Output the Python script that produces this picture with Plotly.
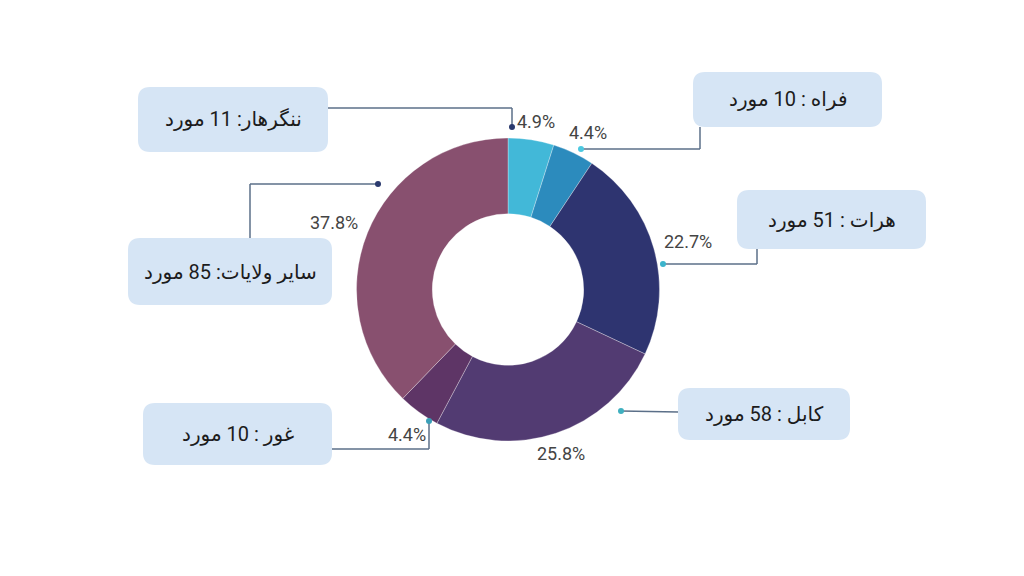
import plotly.graph_objects as go

# استان‌ها و تعداد موارد
provinces = ["ننگرهار", "فراه", "هرات", "کابل", "غور", "سایر ولایات"]
counts = [11, 10, 51, 58, 10, 85]
box_texts = ["ننگرهار: 11 مورد", "فراه : 10 مورد", "هرات : 51 مورد",
             "کابل : 58 مورد", "غور : 10 مورد", "سایر ولایات: 85 مورد"]
colors = ["#42b8d8", "#2c8bbd", "#2e3470", "#523b72", "#5e3566", "#88506f"]

# the page body has an 8px margin, so the figure sits at (8, 8)
OFF = 8
W, H = 1024 - 2 * OFF, 576 - 2 * OFF


def px(x, y):
    return (x - OFF) / W, 1 - (y - OFF) / H


def rounded_box(x0, y0, x1, y1, r=12):
    path = (f"M {x0 + r},{y0} L {x1 - r},{y0} Q {x1},{y0} {x1},{y0 + r} "
            f"L {x1},{y1 - r} Q {x1},{y1} {x1 - r},{y1} L {x0 + r},{y1} "
            f"Q {x0},{y1} {x0},{y1 - r} L {x0},{y0 + r} Q {x0},{y0} {x0 + r},{y0} Z")
    out = []
    for tok in path.split(" "):
        if "," in tok:
            a, b = tok.split(",")
            qx, qy = px(float(a), float(b))
            out.append(f"{qx:.5f},{qy:.5f}")
        else:
            out.append(tok)
    return " ".join(out)


# box geometry (pixels), connector polylines and percent label spots, one per slice
boxes = [(138, 87, 328, 152), (693, 72, 882, 127), (737, 190, 926, 249),
         (678, 388, 850, 440), (143, 403, 332, 465), (128, 238, 332, 305)]
connectors = [[(328, 108), (512, 108), (512, 127)],
              [(700, 127), (700, 149), (581, 149)],
              [(757, 249), (757, 264), (663, 264)],
              [(678, 412), (621, 411)],
              [(332, 449), (429, 449), (429, 421)],
              [(250, 238), (250, 184), (378, 184)]]
pct_spots = [(536, 122), (588, 132), (688, 241), (561, 453), (407, 434), (334, 222)]
dot_colors = ["#2b3a6e", "#4cc8e0", "#3cb4cc", "#3fb0c0", "#3a9fb8", "#2b3a6e"]

total = sum(counts)
percents = [f"{100 * c / total:.1f}%" for c in counts]

fig = go.Figure()
fig.add_trace(go.Pie(
    labels=provinces, values=counts, sort=False, direction="clockwise",
    rotation=0, hole=0.5, textinfo="none",
    marker=dict(colors=colors, line=dict(color="rgba(255,255,255,0.5)", width=0.6)),
    domain=dict(x=[(356 - OFF) / W, (660 - OFF) / W],
                y=[1 - (441 - OFF) / H, 1 - (138 - OFF) / H]),
    hoverinfo="label+value+percent", showlegend=False,
))

shapes = []
annotations = []
for (x0, y0, x1, y1), txt, conn, dc, spot, pct in zip(
        boxes, box_texts, connectors, dot_colors, pct_spots, percents):
    for (ax, ay), (bx, by) in zip(conn[:-1], conn[1:]):
        p0 = px(ax, ay)
        p1 = px(bx, by)
        shapes.append(dict(type="line", xref="paper", yref="paper",
                           x0=p0[0], y0=p0[1], x1=p1[0], y1=p1[1],
                           line=dict(color="#5b6f88", width=1.5)))
    ex, ey = conn[-1]
    d0 = px(ex - 3, ey - 3)
    d1 = px(ex + 3, ey + 3)
    shapes.append(dict(type="circle", xref="paper", yref="paper",
                       x0=d0[0], y0=d0[1], x1=d1[0], y1=d1[1],
                       fillcolor=dc, line=dict(width=0)))
    shapes.append(dict(type="path", xref="paper", yref="paper",
                       path=rounded_box(x0, y0, x1, y1),
                       fillcolor="#d6e5f5", line=dict(width=0), layer="below"))
    cx, cy = px((x0 + x1) / 2, (y0 + y1) / 2)
    annotations.append(dict(x=cx, y=cy, xref="paper", yref="paper", text=txt,
                            showarrow=False, xanchor="center", yanchor="middle",
                            font=dict(family="Roboto, DejaVu Sans", size=20,
                                      color="#1c1c1c")))
    sx, sy = px(*spot)
    annotations.append(dict(x=sx, y=sy, xref="paper", yref="paper", text=pct,
                            showarrow=False, xanchor="center", yanchor="middle",
                            font=dict(family="Roboto", size=18, color="#444444")))

fig.update_layout(
    width=W, height=H, margin=dict(l=0, r=0, t=0, b=0),
    paper_bgcolor="white", plot_bgcolor="white",
    shapes=shapes, annotations=annotations,
)

fig.write_html("out.html")
